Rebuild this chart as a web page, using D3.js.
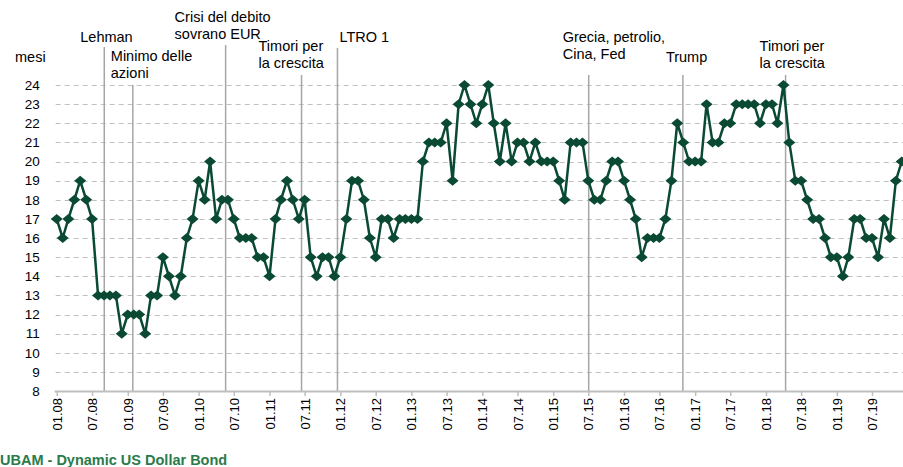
<!DOCTYPE html>
<html>
<head>
<meta charset="utf-8">
<script src="https://cdn.jsdelivr.net/npm/d3@7"></script>
<style>
    body { margin: 0; background: #fff; }
</style>
</head>
<body>
<div id="chart"></div>
<script>
// durata (mesi), una osservazione al mese da 01.2008 a 12.2019
const firstMonth = [2008, 0];
const durataMesi = [
    17, 16, 17, 18, 19, 18, 17, 13, 13, 13, 13, 11, 12, 12, 12, 11, 13, 13,
    15, 14, 13, 14, 16, 17, 19, 18, 20, 17, 18, 18, 17, 16, 16, 16, 15, 15, 14, 17, 18,
    19, 18, 17, 18, 15, 14, 15, 15, 14, 15, 17, 19, 19, 18, 16, 15, 17, 17, 16, 17, 17, 17, 17,
    20, 21, 21, 21, 22, 19, 23, 24, 23, 22, 23, 24, 22, 20, 22, 20, 21, 21, 20, 21, 20, 20, 20, 19, 18, 21, 21, 21,
    19, 18, 18, 19, 20, 20, 19, 18, 17, 15, 16, 16, 16, 17, 19, 22,
    21, 20, 20, 20, 23, 21, 21, 22, 22, 23, 23, 23, 23, 22, 23, 23, 22, 24, 21, 19, 19, 18, 17, 17, 16, 15, 15, 14, 15, 17, 17, 16, 16, 15, 17, 16, 19, 20
];

const xTickLabels = [
    "01.08", "07.08", "01.09", "07.09", "01.10", "07.10", "01.11", "07.11",
    "01.12", "07.12", "01.13", "07.13", "01.14", "07.14", "01.15", "07.15",
    "01.16", "07.16", "01.17", "07.17", "01.18", "07.18", "01.19", "07.19"
];
const yTickValues = [8, 9, 10, 11, 12, 13, 14, 15, 16, 17, 18, 19, 20, 21, 22, 23, 24];

const eventDates = [
    "2008-09-02", "2009-01-27", "2010-05-20", "2011-06-15",
    "2011-12-17", "2015-07-03", "2016-10-30", "2018-04-12"
];
const eventLabels = [
    ["Lehman"],
    ["Minimo delle", "azioni"],
    ["Crisi del debito", "sovrano EUR"],
    ["Timori per", "la crescita"],
    ["LTRO 1"],
    ["Grecia, petrolio,", "Cina, Fed"],
    ["Trump"],
    ["Timori per", "la crescita"]
];

class DurationChart {
    constructor(id) {
        this.id = id;
        this.width = 903;
        this.height = 467;
        this.config = {
            left: 56.7,
            right: 901.7,
            top: 85,
            bottom: 391,
            lineColor: "#0a4a33",
            gridColor: "#c0c0c0",
            eventColor: "#a6a6a6",
            font: "Arial, 'Liberation Sans', sans-serif"
        };
        // layout of the annotation texts: dx from line, y of first text line, top of line
        this.eventLayout = [
            { dx: -24, y: 38, top: 47 },
            { dx: -22, y: 57, top: 85 },
            { dx: -51, y: 18, top: 45 },
            { dx: -43, y: 47, top: 75 },
            { dx: 2, y: 38, top: 48 },
            { dx: -26, y: 38, top: 75 },
            { dx: -17, y: 58, top: 75 },
            { dx: -26, y: 47, top: 75 }
        ];
    }

    initialize() {
        this.createSVG();
        this.setupScales();
    }

    createSVG() {
        this.svg = d3.select(this.id)
            .append("svg")
            .attr("width", this.width)
            .attr("height", this.height)
            .style("font-family", this.config.font);
    }

    setupScales() {
        const c = this.config;
        const first = new Date(firstMonth[0], firstMonth[1], 1);
        const last = new Date(firstMonth[0], firstMonth[1] + durataMesi.length - 1, 1);
        this.x = d3.scaleTime().domain([first, last]).range([c.left, c.right]);
        this.y = d3.scaleLinear().domain([8, 24]).range([c.bottom, c.top]);
    }

    processData() {
        return durataMesi.map((v, i) => ({
            date: new Date(firstMonth[0], firstMonth[1] + i, 1),
            value: v
        }));
    }

    drawGrid() {
        const c = this.config;
        const grid = this.svg.append("g").attr("class", "grid");
        grid.selectAll("line")
            .data(yTickValues.filter(v => v > 8))
            .enter().append("line")
            .attr("x1", c.left - 1)
            .attr("x2", this.width)
            .attr("y1", d => Math.round(this.y(d)) + 0.5)
            .attr("y2", d => Math.round(this.y(d)) + 0.5)
            .style("stroke", c.gridColor)
            .style("stroke-width", 1)
            .style("stroke-dasharray", "5,4");
    }

    drawAxes() {
        const c = this.config;
        const yAxis = this.svg.append("g")
            .attr("transform", `translate(${c.left - 17}, 0)`)
            .call(d3.axisLeft(this.y).tickValues(yTickValues).tickSize(0).tickPadding(0));
        yAxis.select(".domain").remove();
        yAxis.selectAll("text")
            .style("font-size", "13.5px")
            .style("font-family", c.font)
            .style("fill", "#000");

        const tickDates = xTickLabels.map((d, i) => new Date(firstMonth[0], firstMonth[1] + i * 6, 1));
        const xAxis = this.svg.append("g")
            .attr("transform", `translate(0, ${c.bottom})`)
            .call(d3.axisBottom(this.x)
                .tickValues(tickDates)
                .tickFormat((d, i) => xTickLabels[i])
                .tickSizeInner(5)
                .tickSizeOuter(0));
        xAxis.select(".domain")
            .attr("d", `M${c.left - 2},0.5H${this.width}`)
            .style("stroke", "#bfbfbf")
            .style("stroke-width", 2);
        xAxis.selectAll(".tick line")
            .style("stroke", "#bfbfbf")
            .style("stroke-width", 1.5);
        xAxis.selectAll("text")
            .attr("transform", "rotate(-90)")
            .attr("x", -7)
            .attr("y", 0)
            .attr("dy", "0.35em")
            .attr("text-anchor", "end")
            .style("font-size", "13px")
            .style("font-family", c.font)
            .style("fill", "#000");
    }

    drawEvents() {
        const c = this.config;
        const events = eventDates.map((d, i) => ({
            date: new Date(d),
            lines: eventLabels[i],
            layout: this.eventLayout[i]
        }));
        const g = this.svg.append("g").attr("class", "events");
        g.selectAll("line")
            .data(events)
            .enter().append("line")
            .attr("x1", d => this.x(d.date))
            .attr("x2", d => this.x(d.date))
            .attr("y1", d => d.layout.top)
            .attr("y2", c.bottom)
            .style("stroke", c.eventColor)
            .style("stroke-width", 1.5);

        const labels = g.selectAll("text")
            .data(events)
            .enter().append("text")
            .attr("x", d => this.x(d.date) + d.layout.dx)
            .attr("y", d => d.layout.y)
            .attr("dominant-baseline", "middle")
            .style("font-size", "14.5px")
            .style("fill", "#000");
        labels.selectAll("tspan")
            .data(d => d.lines.map((t, k) => ({ t, k, x: this.x(d.date) + d.layout.dx })))
            .enter().append("tspan")
            .attr("x", d => d.x)
            .attr("dy", d => d.k === 0 ? 0 : 17)
            .text(d => d.t);
    }

    drawSeries(data) {
        const c = this.config;
        const line = d3.line()
            .x(d => this.x(d.date))
            .y(d => this.y(d.value));
        this.svg.append("path")
            .datum(data)
            .attr("d", line)
            .style("fill", "none")
            .style("stroke", c.lineColor)
            .style("stroke-width", 2.5)
            .style("stroke-linejoin", "round");

        this.svg.append("g")
            .selectAll("path")
            .data(data)
            .enter().append("path")
            .attr("transform", d => `translate(${this.x(d.date)}, ${this.y(d.value)})`)
            .attr("d", "M0,-5L6,0L0,5L-6,0Z")
            .style("fill", c.lineColor);
    }

    drawTexts() {
        this.svg.append("text")
            .attr("x", 15)
            .attr("y", 58)
            .attr("dominant-baseline", "middle")
            .style("font-size", "14.5px")
            .style("fill", "#000")
            .text("mesi");

        this.svg.append("text")
            .attr("x", 0)
            .attr("y", 461)
            .attr("dominant-baseline", "middle")
            .style("font-size", "14.5px")
            .style("font-weight", "bold")
            .style("fill", "#2b7a4b")
            .text("UBAM - Dynamic US Dollar Bond");
    }

    update() {
        const data = this.processData();
        this.drawGrid();
        this.drawEvents();
        this.drawAxes();
        this.drawSeries(data);
        this.drawTexts();
    }
}

const chart = new DurationChart("#chart");
chart.initialize();
chart.update();
</script>
</body>
</html>
